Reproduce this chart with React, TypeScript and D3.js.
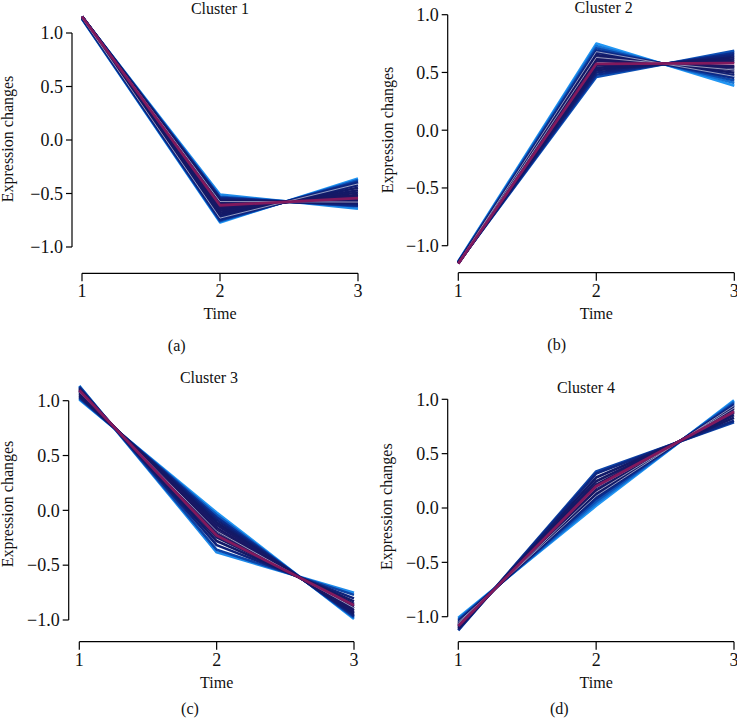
import React from "react";
import * as d3 from "d3";

// ---------- DATA ----------
const TIME = [1, 2, 3];
const Y_TICKS = [-1.0, -0.5, 0.0, 0.5, 1.0];
const X_TICKS = [1, 2, 3];
const CLUSTER_TITLES = ["Cluster 1", "Cluster 2", "Cluster 3", "Cluster 4"];
const PANEL_TAGS = ["(a)", "(b)", "(c)", "(d)"];
const X_LABEL = "Time";
const Y_LABEL = "Expression changes";

// Cluster 1: standardized expression at time 1,2,3
const cluster1Values = [
  [1.152, -0.51, -0.642], [1.13, -0.77, -0.36], [1.152, -0.53, -0.622], [1.134, -0.76, -0.374],
  [1.154, -0.54, -0.614], [1.137, -0.75, -0.387], [1.155, -0.55, -0.605], [1.14, -0.74, -0.4],
  [1.155, -0.56, -0.595], [1.142, -0.72, -0.422], [1.155, -0.57, -0.585], [1.146, -0.7, -0.446],
  [1.155, -0.58, -0.575], [1.149, -0.68, -0.469], [1.155, -0.59, -0.565], [1.151, -0.66, -0.491],
  [1.154, -0.6, -0.554], [1.153, -0.64, -0.513], [1.154, -0.62, -0.534], [1.154, -0.63, -0.524],
  [1.154, -0.61, -0.544],
];
const cluster1Membership = [
  0.32, 0.3, 0.42, 0.4, 0.5, 0.48, 0.56, 0.55, 0.62, 0.6, 0.66, 0.65, 0.7, 0.7, 0.74, 0.74,
  0.8, 0.8, 0.86, 0.88, 0.98,
];
const cluster1White = [[1.155, -0.575, -0.58], [1.14, -0.73, -0.41]];

const cluster2Values = [
  [-1.135, 0.75, 0.385], [-1.147, 0.46, 0.687], [-1.138, 0.73, 0.408], [-1.148, 0.48, 0.668],
  [-1.141, 0.71, 0.431], [-1.15, 0.5, 0.65], [-1.143, 0.69, 0.453], [-1.151, 0.52, 0.631],
  [-1.146, 0.67, 0.476], [-1.153, 0.54, 0.613], [-1.148, 0.65, 0.498], [-1.154, 0.56, 0.594],
  [-1.15, 0.63, 0.52], [-1.153, 0.61, 0.543], [-1.154, 0.6, 0.554], [-1.155, 0.575, 0.58],
];
const cluster2Membership = [
  0.3, 0.42, 0.36, 0.5, 0.44, 0.58, 0.52, 0.64, 0.6, 0.7, 0.68, 0.78, 0.75, 0.82, 0.86, 0.98,
];
const cluster2White = [[-1.146, 0.68, 0.466], [-1.151, 0.63, 0.521]];

const cluster3Values = [
  [1.01, -0.02, -0.99], [1.135, -0.383, -0.752], [1.02, -0.041, -0.979], [1.13, -0.359, -0.771],
  [1.03, -0.063, -0.967], [1.12, -0.317, -0.803], [1.04, -0.086, -0.954], [1.11, -0.28, -0.83],
  [1.05, -0.109, -0.941], [1.1, -0.246, -0.854], [1.06, -0.133, -0.927], [1.07, -0.159, -0.911],
  [1.08, -0.186, -0.894], [1.09, -0.215, -0.875], [1.095, -0.23, -0.865],
];
const cluster3Membership = [
  0.3, 0.32, 0.4, 0.45, 0.5, 0.58, 0.6, 0.68, 0.68, 0.76, 0.75, 0.8, 0.84, 0.88, 0.98,
];
const cluster3White = [[1.08, -0.19, -0.89]];

const cluster4Values = [
  [-1.01, 0.02, 0.99], [-1.125, 0.337, 0.788], [-1.02, 0.041, 0.979], [-1.12, 0.317, 0.803],
  [-1.03, 0.063, 0.967], [-1.11, 0.28, 0.83], [-1.04, 0.086, 0.954], [-1.1, 0.246, 0.854],
  [-1.05, 0.109, 0.941], [-1.09, 0.215, 0.875], [-1.06, 0.133, 0.927], [-1.07, 0.159, 0.911],
  [-1.08, 0.186, 0.894], [-1.085, 0.2, 0.885],
];
const cluster4Membership = [
  0.3, 0.45, 0.36, 0.55, 0.42, 0.66, 0.5, 0.74, 0.58, 0.82, 0.65, 0.72, 0.8, 0.98,
];
const cluster4White = [[-1.08, 0.186, 0.894], [-1.065, 0.146, 0.919], [-1.05, 0.109, 0.941]];

const CLUSTER_VALUES = [cluster1Values, cluster2Values, cluster3Values, cluster4Values];
const CLUSTER_MEMBERSHIP = [cluster1Membership, cluster2Membership, cluster3Membership, cluster4Membership];
const CLUSTER_WHITE = [cluster1White, cluster2White, cluster3White, cluster4White];

// ---------- LAYOUT ----------
const PANELS = [
  { xLeft: 82, xRight: 358, yOne: 33, yMinusOne: 247, yAxisX: 72, xAxisY: 273.3, titleX: 220, titleY: 14, ylabX: 13, ylabY: 139, tagX: 176.7, tagY: 351, timeY: 319.3 },
  { xLeft: 458.3, xRight: 734.3, yOne: 14.7, yMinusOne: 245.7, yAxisX: 447.7, xAxisY: 272.7, titleX: 603.7, titleY: 12.5, ylabX: 392.5, ylabY: 130, tagX: 556.7, tagY: 350, timeY: 319.3 },
  { xLeft: 79.3, xRight: 354, yOne: 400.7, yMinusOne: 620, yAxisX: 68.7, xAxisY: 641.7, titleX: 209, titleY: 382.7, ylabX: 13, ylabY: 504, tagX: 190, tagY: 714, timeY: 688.3 },
  { xLeft: 458.3, xRight: 734, yOne: 399.3, yMinusOne: 616.7, yAxisX: 447.7, xAxisY: 641.7, titleX: 586, titleY: 392.5, ylabX: 392, ylabY: 506.7, tagX: 559.3, tagY: 714, timeY: 688.3 },
];

const FONT_STYLE = { fontFamily: "Liberation Serif, Times New Roman, Times, serif" };

const colorScale = d3
  .scaleLinear<string>()
  .domain([0.3, 0.4, 0.5, 0.65, 0.92, 1])
  .range(["#2196f3", "#0d5ac0", "#0b2c8c", "#121a68", "#1c1762", "#a3195b"])
  .clamp(true);

function Panel({ idx }: { idx: number }) {
  const p = PANELS[idx];
  const values = CLUSTER_VALUES[idx];
  const memb = CLUSTER_MEMBERSHIP[idx];
  const whites = CLUSTER_WHITE[idx];
  const x = d3.scaleLinear().domain([1, 3]).range([p.xLeft, p.xRight]);
  const y = d3.scaleLinear().domain([-1, 1]).range([p.yMinusOne, p.yOne]);
  const line = d3
    .line<number>()
    .x((_, i) => x(TIME[i]))
    .y((v) => y(v));

  const order = d3.range(values.length).sort((a, b) => memb[a] - memb[b]);
  const low = order.filter((i) => memb[i] < 0.95);
  const high = order.filter((i) => memb[i] >= 0.95);

  return (
    <g style={FONT_STYLE}>
      {low.map((i) => (
        <path key={"l" + i} d={line(values[i]) || ""} fill="none" stroke={colorScale(memb[i])} strokeWidth={2.6} strokeLinejoin="round" />
      ))}
      {whites.map((w, i) => (
        <path key={"w" + i} d={line(w) || ""} fill="none" stroke="#ffffff" strokeOpacity={0.8} strokeWidth={0.7} strokeLinejoin="round" />
      ))}
      {high.map((i) => (
        <path key={"h" + i} d={line(values[i]) || ""} fill="none" stroke={colorScale(memb[i])} strokeWidth={2.8} strokeLinejoin="round" />
      ))}

      {/* y axis */}
      <line x1={p.yAxisX} x2={p.yAxisX} y1={y(-1)} y2={y(1)} stroke="#000" strokeWidth={1.2} />
      {Y_TICKS.map((t) => (
        <g key={"yt" + t}>
          <line x1={p.yAxisX - 6} x2={p.yAxisX} y1={y(t)} y2={y(t)} stroke="#000" strokeWidth={1.2} />
          <text x={p.yAxisX - 9} y={y(t)} dy="0.35em" textAnchor="end" fontSize={18} fill="#111">
            {d3.format(".1f")(t).replace("-", "\u2212")}
          </text>
        </g>
      ))}

      {/* x axis */}
      <line x1={x(1)} x2={x(3)} y1={p.xAxisY} y2={p.xAxisY} stroke="#000" strokeWidth={1.2} />
      {X_TICKS.map((t) => (
        <g key={"xt" + t}>
          <line x1={x(t)} x2={x(t)} y1={p.xAxisY} y2={p.xAxisY + 8} stroke="#000" strokeWidth={1.2} />
          <text x={x(t)} y={p.xAxisY + 24} textAnchor="middle" fontSize={18} fill="#111">
            {t}
          </text>
        </g>
      ))}

      <text x={p.titleX} y={p.titleY} textAnchor="middle" fontSize={16} fill="#111">
        {CLUSTER_TITLES[idx]}
      </text>
      <text x={(p.xLeft + p.xRight) / 2} y={p.timeY} textAnchor="middle" fontSize={16} fill="#111">
        {X_LABEL}
      </text>
      <text transform={`translate(${p.ylabX},${p.ylabY}) rotate(-90)`} textAnchor="middle" fontSize={16} fill="#111">
        {Y_LABEL}
      </text>
      <text x={p.tagX} y={p.tagY} textAnchor="middle" fontSize={16} fill="#111">
        {PANEL_TAGS[idx]}
      </text>
    </g>
  );
}

export default function App() {
  return (
    <svg width={737} height={722} style={{ position: "absolute", left: 0, top: 0, background: "#fff" }}>
      <rect width={737} height={722} fill="#fff" />
      {[0, 1, 2, 3].map((i) => (
        <Panel key={i} idx={i} />
      ))}
    </svg>
  );
}
